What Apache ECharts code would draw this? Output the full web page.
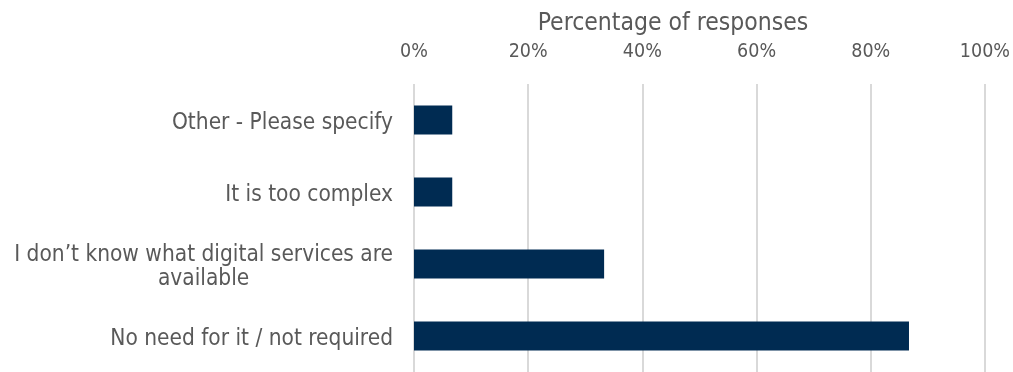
<!DOCTYPE html>
<html>
<head>
<meta charset="utf-8">
<script src="https://cdn.jsdelivr.net/npm/echarts@6/dist/echarts.min.js"></script>
<style>
  html, body { margin: 0; padding: 0; background: #ffffff; }
  #chart { width: 1013px; height: 372px; }
</style>
</head>
<body>
<div id="chart"></div>
<script>
// Reasons given for not using digital services (share of responses, %)
const categories = [
  'No need for it / not required',
  'I don\u2019t know what digital services are available',
  'It is too complex',
  'Other - Please specify'
];
const percentages = [86.7, 33.3, 6.7, 6.7];
const axisTicks = [0, 20, 40, 60, 80, 100];
const axisTitle = 'Percentage of responses';

const FONT = '"DejaVu Sans Condensed", "DejaVu Sans", sans-serif';
const TEXT = '#595959';

// Simple word wrap for long category names
function wrap(label, maxChars) {
  const words = label.split(' ');
  const lines = [];
  let cur = '';
  words.forEach(w => {
    const next = cur ? cur + ' ' + w : w;
    if (next.length > maxChars && cur) { lines.push(cur); cur = w; }
    else cur = next;
  });
  if (cur) lines.push(cur);
  return lines.map(l => '{c|' + l + '}').join('\n');
}

const chart = echarts.init(document.getElementById('chart'), null, { renderer: 'canvas' });
chart.setOption({
  animation: false,
  backgroundColor: '#ffffff',
  grid: { left: 414, right: 26, top: 84, bottom: -3, containLabel: false },
  title: {
    text: axisTitle,
    left: 668,
    top: 6,
    textAlign: 'center',
    textStyle: { fontFamily: FONT, fontSize: 24.5, fontWeight: 'normal', color: TEXT }
  },
  xAxis: {
    type: 'value',
    position: 'top',
    min: axisTicks[0],
    max: axisTicks[axisTicks.length - 1],
    interval: axisTicks[1] - axisTicks[0],
    axisLine: { show: false },
    axisTick: { show: false },
    axisLabel: {
      formatter: v => v + '%',
      fontFamily: FONT, fontSize: 19.5, color: TEXT, margin: 22
    },
    splitLine: { show: true, lineStyle: { color: '#d9d9d9', width: 2 } }
  },
  yAxis: {
    type: 'category',
    data: categories,
    axisLine: { show: false },
    axisTick: { show: false },
    axisLabel: {
      formatter: v => wrap(v, 40),
      margin: 21,
      padding: [6, 0, 0, 0],
      rich: { c: { align: 'center', fontFamily: FONT, fontSize: 22.5, color: TEXT, lineHeight: 24 } }
    }
  },
  series: [{
    type: 'bar',
    data: percentages,
    barWidth: 29,
    itemStyle: { color: '#002b52' }
  }]
});
</script>
</body>
</html>
